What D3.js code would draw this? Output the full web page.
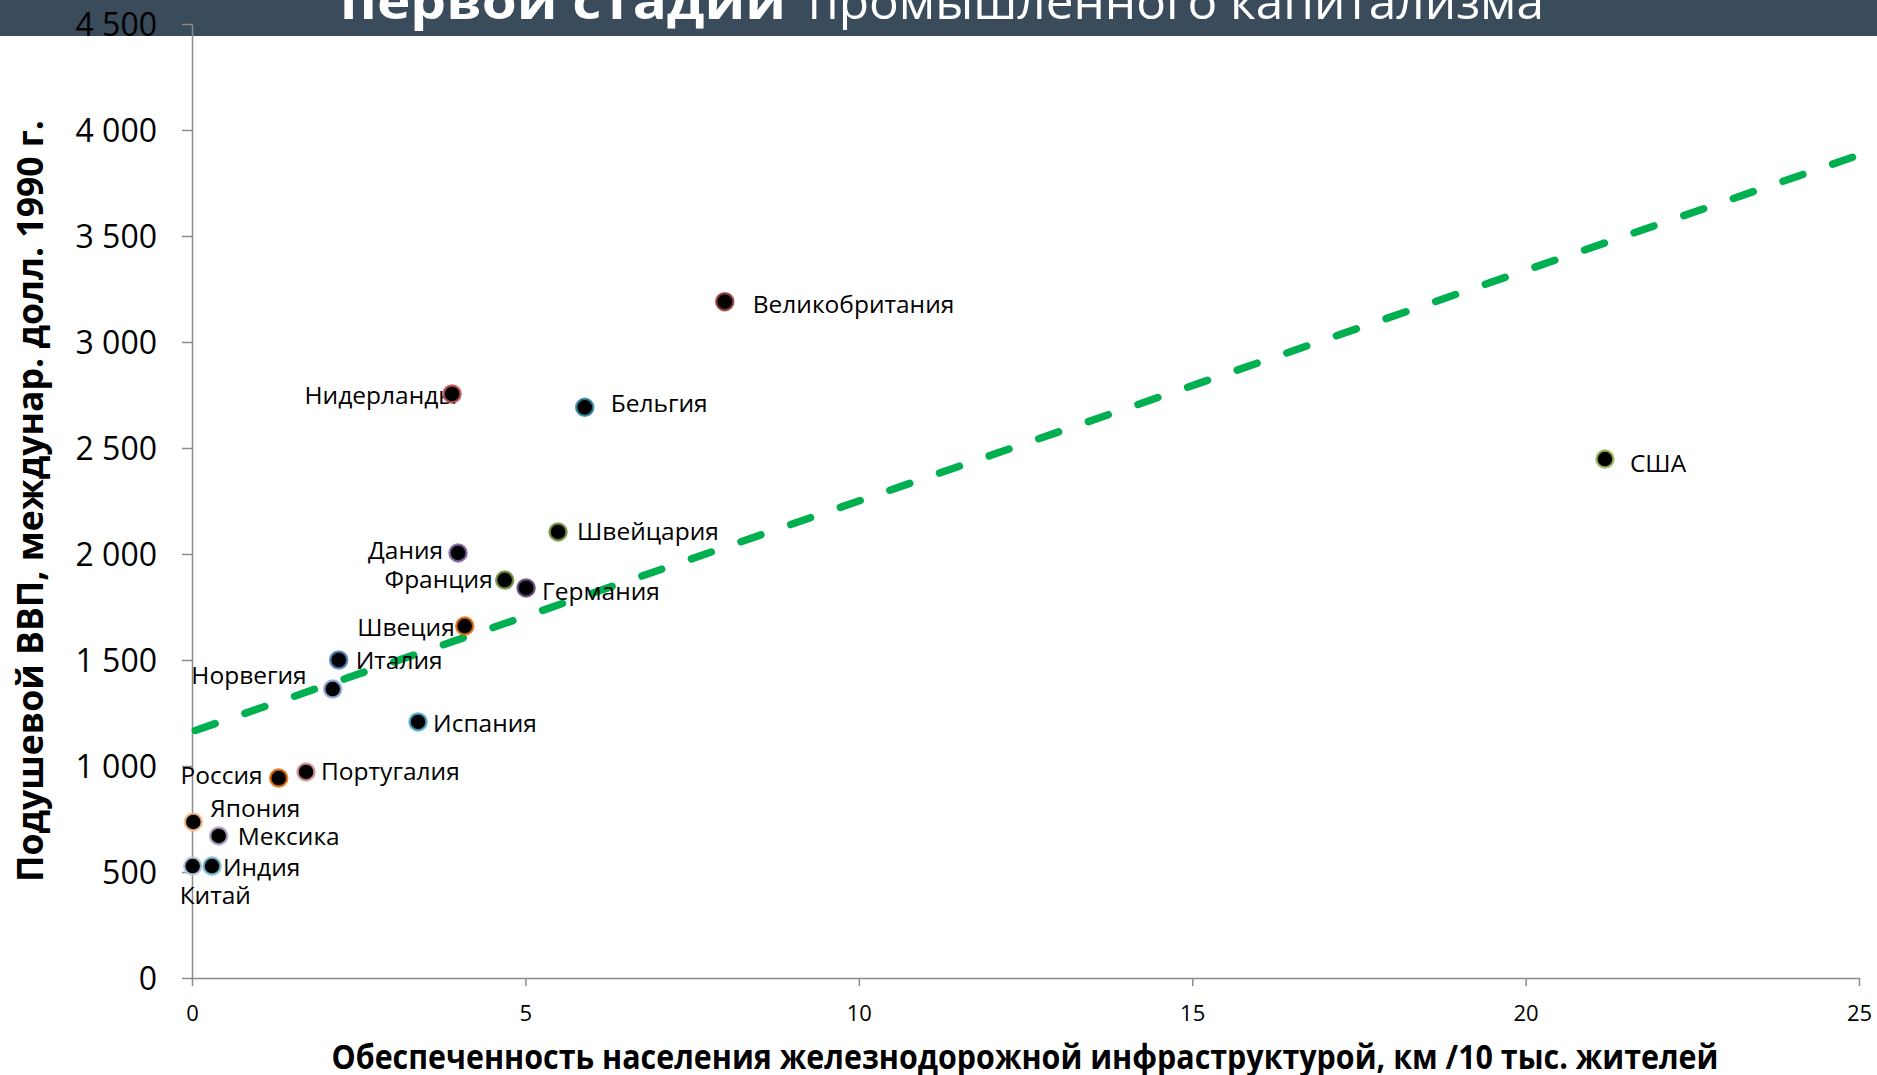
<!DOCTYPE html>
<html>
<head>
<meta charset="utf-8">
<script src="https://cdn.jsdelivr.net/npm/d3@7"></script>
<style>
  html, body { margin: 0; padding: 0; background: #ffffff; }
  svg { display: block; }
  text { font-family: "Open Sans", "Noto Sans", sans-serif; }
</style>
</head>
<body>
<svg id="chart" width="1877" height="1075"></svg>
<script>
// ---------------- data ----------------
const countries = ["Великобритания","Нидерланды","Бельгия","США","Швейцария","Дания","Франция","Германия","Швеция","Италия","Норвегия","Испания","Португалия","Россия","Япония","Мексика","Индия","Китай"];
const railKm    = [7.99, 3.90, 5.89, 21.19, 5.49, 3.99, 4.69, 5.01, 4.09, 2.20, 2.11, 3.39, 1.71, 1.30, 0.02, 0.40, 0.30, 0.01];
const gdpPerCap = [3190, 2755, 2692, 2448, 2104, 2005, 1877, 1840, 1660, 1500, 1363, 1208, 972, 943, 736, 670, 528, 528];

const trendX = [0, 25];
const trendY = [1162, 3882];

const xTicks = [0, 5, 10, 15, 20, 25];
const xTickLabels = ["0", "5", "10", "15", "20", "25"];
const yTicks = [0, 500, 1000, 1500, 2000, 2500, 3000, 3500, 4000, 4500];
const yTickLabels = ["0", "500", "1 000", "1 500", "2 000", "2 500", "3 000", "3 500", "4 000", "4 500"];

const titleBold = "первой стадии";
const titleRegular = "промышленного капитализма";
const yTitle = "Подушевой ВВП, междунар. долл. 1990 г.";
const xTitle = "Обеспеченность населения железнодорожной инфраструктурой, км /10 тыс. жителей";

// ---------------- styles / label layout ----------------
const markerColors = ["#953735","#c0504d","#31859c","#9bbb59","#77933c","#8064a2","#76923c","#5f497a","#e46c0a","#4f81bd","#8ea9db","#4bacc6","#d99694","#e46c0a","#fac090","#b3a2c7","#78c0d4","#b9cde5"];
// [anchor, dx, dy] relative to the marker centre (px)
const labelLayout = [
  ["start", 28, 3], ["end", 5, 1], ["start", 26, -4], ["start", 25, 4],
  ["start", 19, -1], ["end", -15, -3], ["end", -12, -1], ["start", 16, 3],
  ["end", -10, 1], ["start", 17, 0], ["end", -26, -14], ["start", 15, 1],
  ["start", 15, -1], ["end", -16, -3], ["start", 17, -14], ["start", 19, 0],
  ["start", 11, 1], ["start", -13, 29]
];

// ---------------- drawing ----------------
const svg = d3.select("#chart");

// title bar
svg.append("rect").attr("x", 0).attr("y", 0).attr("width", 1877).attr("height", 36).attr("fill", "#3a4b5b");
svg.append("text").attr("x", 340).attr("y", 19)
  .attr("font-size", 48).attr("font-weight", "bold").attr("fill", "#ffffff")
  .attr("textLength", 446).attr("lengthAdjust", "spacingAndGlyphs").text(titleBold);
svg.append("text").attr("x", 808).attr("y", 19)
  .attr("font-size", 48).attr("fill", "#ffffff")
  .attr("textLength", 736).attr("lengthAdjust", "spacingAndGlyphs").text(titleRegular);

const x = d3.scaleLinear().domain([0, 25]).range([192, 1859]);
const y = d3.scaleLinear().domain([0, 4500]).range([978, 24]);

const axisColor = "#8c8c8c";

// y axis
const gy = svg.append("g").attr("transform", `translate(${x(0)},0)`)
  .call(d3.axisLeft(y).tickValues(yTicks).tickFormat((d, i) => yTickLabels[i]).tickSize(10).tickSizeOuter(0).tickPadding(25));
gy.select(".domain").attr("stroke", axisColor).attr("stroke-width", 1.5);
gy.selectAll(".tick line").attr("stroke", axisColor).attr("stroke-width", 1.5);
gy.selectAll(".tick text").attr("font-size", 32).attr("fill", "#000").attr("font-family", "Open Sans, sans-serif").attr("dy", "0.36em");

// x axis
const gx = svg.append("g").attr("transform", `translate(0,${y(0)})`)
  .call(d3.axisBottom(x).tickValues(xTicks).tickFormat((d, i) => xTickLabels[i]).tickSize(8).tickSizeOuter(0));
gx.select(".domain").attr("stroke", axisColor).attr("stroke-width", 1.5);
gx.selectAll(".tick line").attr("stroke", axisColor).attr("stroke-width", 1.5);
gx.selectAll(".tick text").attr("font-size", 22).attr("fill", "#000").attr("font-family", "Open Sans, sans-serif")
  .attr("y", 43).attr("dy", "0");

// axis titles
svg.append("text").attr("transform", "translate(43,501) rotate(-90)")
  .attr("text-anchor", "middle").attr("font-size", 36).attr("font-weight", "bold").attr("fill", "#000")
  .attr("textLength", 762).attr("lengthAdjust", "spacingAndGlyphs").text(yTitle);
svg.append("text").attr("x", 1025).attr("y", 1069)
  .attr("text-anchor", "middle").attr("font-size", 34).attr("font-weight", "bold").attr("fill", "#000")
  .attr("textLength", 1387).attr("lengthAdjust", "spacingAndGlyphs").text(xTitle);

// trend line
const line = d3.line().x(d => x(d[0])).y(d => y(d[1]));
svg.append("path").datum(trendX.map((v, i) => [v, trendY[i]]))
  .attr("d", line).attr("fill", "none").attr("stroke", "#00b050").attr("stroke-width", 7.5)
  .attr("stroke-linecap", "round").attr("stroke-dasharray", "21,31.5").attr("stroke-dashoffset", -3.5);

const pts = countries.map((c, i) => ({ name: c, x: railKm[i], y: gdpPerCap[i], color: markerColors[i], lab: labelLayout[i] }));

// labels
svg.append("g").selectAll("text").data(pts).join("text")
  .attr("x", d => x(d.x) + d.lab[1])
  .attr("y", d => y(d.y) + d.lab[2])
  .attr("dy", "0.357em")
  .attr("text-anchor", d => d.lab[0])
  .attr("font-size", 24.5).attr("fill", "#000")
  .text(d => d.name);

// markers
svg.append("g").selectAll("circle").data(pts).join("circle")
  .attr("cx", d => x(d.x)).attr("cy", d => y(d.y)).attr("r", 8.5)
  .attr("fill", "#000").attr("stroke", d => d.color).attr("stroke-width", 2.5).attr("stroke-opacity", 0.85);
</script>
</body>
</html>
